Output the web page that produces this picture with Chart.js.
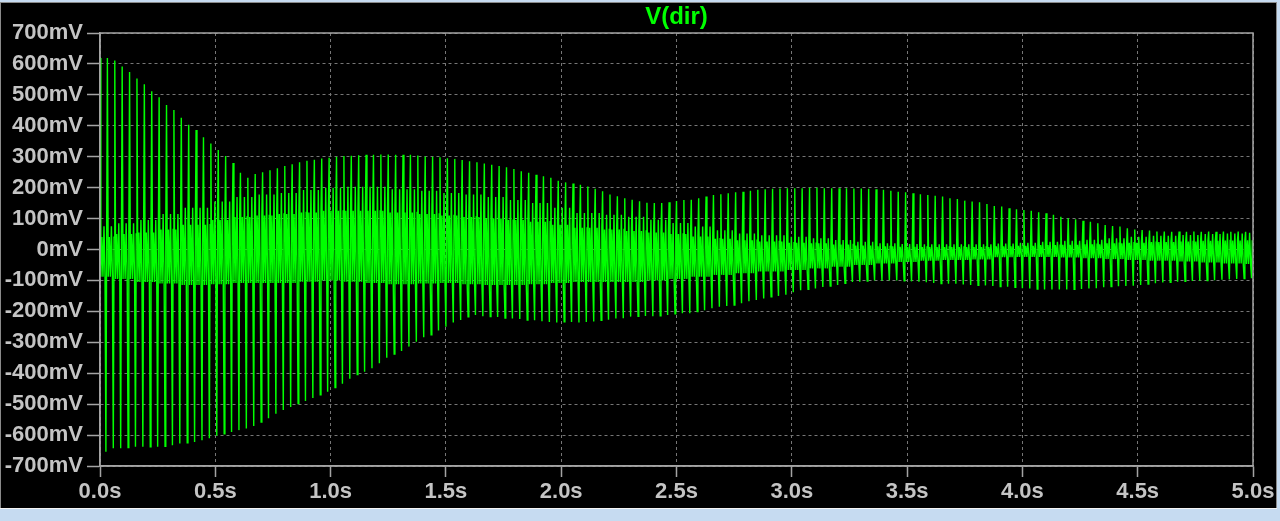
<!DOCTYPE html>
<html>
<head>
<meta charset="utf-8">
<script src="https://cdn.jsdelivr.net/npm/chart.js@4"></script>
<style>
  html, body { margin: 0; padding: 0; background: #c6dbf1; overflow: hidden; }
</style>
</head>
<body>
<canvas id="myChart" width="1280" height="521"></canvas>
<script>
// V(dir) transient, 0..5 s, one big spike pair per cycle (156 cycles)
let traceName = 'V(dir)';
let timeTicks = [0, 0.5, 1, 1.5, 2, 2.5, 3, 3.5, 4, 4.5, 5];
let voltTicks = [-700, -600, -500, -400, -300, -200, -100, 0, 100, 200, 300, 400, 500, 600, 700];
let cycleCount = 156;

// positive spike tip of each cycle, mV
let spikeTop = [
    619, 619, 611, 592, 574, 553, 534, 512, 492, 467,
    451, 426, 403, 386, 363, 343, 322, 302, 280, 248,
    232, 244, 250, 256, 263, 270, 276, 282, 287, 290,
    294, 297, 300, 302, 303, 305, 306, 306, 307, 307,
    306, 306, 306, 304, 301, 300, 298, 295, 293, 289,
    285, 282, 278, 274, 270, 266, 260, 253, 248, 242,
    237, 232, 222, 217, 213, 209, 204, 196, 188, 178,
    172, 166, 161, 156, 151, 150, 150, 153, 157, 160,
    161, 166, 171, 176, 179, 182, 185, 187, 190, 193,
    195, 196, 197, 198, 198, 198, 200, 200, 198, 198,
    198, 198, 197, 197, 196, 195, 193, 190, 187, 185,
    182, 179, 176, 174, 171, 166, 163, 158, 155, 153,
    147, 141, 139, 133, 130, 128, 125, 120, 117, 112,
    106, 101, 98, 93, 90, 85, 79, 76, 74, 69,
    65, 63, 61, 58, 58, 57, 58, 57, 58, 57,
    58, 57, 58, 57, 58, 57
];

// negative spike tip of each cycle, mV
let spikeBottom = [
    -654, -643, -643, -640, -638, -638, -638, -638, -636, -633,
    -627, -625, -622, -617, -610, -602, -596, -590, -584, -579,
    -571, -558, -546, -531, -519, -509, -498, -490, -480, -470,
    -460, -446, -434, -418, -404, -395, -384, -368, -350, -338,
    -328, -314, -298, -284, -276, -262, -250, -236, -228, -218,
    -212, -216, -217, -218, -222, -223, -225, -228, -229, -232,
    -234, -236, -234, -234, -236, -234, -233, -229, -227, -223,
    -222, -217, -216, -215, -216, -214, -212, -208, -206, -206,
    -201, -196, -190, -185, -183, -180, -174, -167, -163, -158,
    -153, -150, -146, -138, -132, -129, -126, -121, -118, -115,
    -109, -105, -104, -102, -100, -101, -100, -100, -101, -103,
    -104, -106, -108, -110, -111, -111, -113, -115, -116, -116,
    -118, -120, -120, -122, -125, -126, -128, -129, -129, -129,
    -129, -129, -128, -126, -125, -122, -120, -119, -118, -117,
    -115, -112, -109, -107, -106, -104, -103, -102, -101, -100,
    -99, -98, -97, -95, -94, -93
];

// ringing between spikes, every 0.1 s (0.0 .. 5.0), mV
let bandHigh = [
    75, 85, 95, 115, 135, 155, 170, 178, 183, 192,
    200, 203, 203, 195, 190, 183, 178, 170, 160, 150,
    135, 118, 112, 106, 96, 86, 74, 62, 52, 46,
    41, 36, 31, 25, 20, 18, 17, 17, 17, 19,
    22, 25, 28, 31, 36, 41, 44, 47, 50, 52,
    54
];
let bandCore = [
    40, 50, 55, 65, 80, 95, 105, 110, 115, 120,
    125, 125, 125, 120, 115, 110, 105, 100, 95, 90,
    80, 70, 65, 60, 55, 50, 42, 35, 30, 26,
    22, 20, 16, 13, 10, 9, 8, 8, 8, 10,
    12, 14, 15, 17, 20, 22, 24, 26, 28, 29,
    30
];
let bandLow = [
    -88, -95, -105, -110, -115, -112, -108, -108, -108, -104,
    -100, -104, -108, -112, -110, -108, -112, -115, -115, -112,
    -108, -105, -105, -105, -100, -95, -88, -82, -77, -71,
    -66, -61, -56, -50, -45, -40, -36, -34, -32, -25,
    -24, -24, -26, -28, -31, -34, -36, -39, -42, -45,
    -47
];

let tEnd = timeTicks[timeTicks.length - 1];
let period = tEnd / cycleCount;

// one cycle: top spike, ringing, bottom spike, back into band
let points = [];
for (let i = 0; i < cycleCount; i++) {
    let t = i * period;
    let k = Math.min(bandHigh.length - 1, Math.round(t / 0.1));
    points.push({ x: t, y: spikeTop[i] });
    points.push({ x: t + 0.12 * period, y: bandLow[k] });
    points.push({ x: t + 0.26 * period, y: bandCore[k] });
    points.push({ x: t + 0.40 * period, y: bandLow[k] });
    points.push({ x: t + 0.54 * period, y: bandHigh[k] });
    points.push({ x: t + 0.68 * period, y: bandLow[k] });
    points.push({ x: t + 0.80 * period, y: spikeBottom[i] });
    points.push({ x: t + 0.90 * period, y: bandCore[k] });
}

let frameColor = '#a4a4a4';
let gridColor = '#767676';
let labelColor = '#c4c4c4';

let panel = {
    id: 'panel',
    beforeDraw(chart) {
        let c = chart.ctx;
        c.save();
        c.fillStyle = '#c6dbf1';
        c.fillRect(0, 0, chart.width, chart.height);
        c.fillStyle = '#8a8a8a';
        c.fillRect(0, 2, 1277, 507);
        c.fillStyle = '#000000';
        c.fillRect(1, 3, 1275, 505);
        c.fillStyle = '#f4f4f4';
        c.fillRect(0, 508, 1277, 1);
        c.restore();
    },
    afterDraw(chart) {
        let c = chart.ctx;
        let a = chart.chartArea;
        c.save();
        c.strokeStyle = frameColor;
        c.lineWidth = 1.5;
        c.strokeRect(a.left, a.top, a.right - a.left, a.bottom - a.top);
        c.fillStyle = '#00ff00';
        c.font = 'bold 24px "Liberation Sans", Arial, sans-serif';
        c.textAlign = 'center';
        c.textBaseline = 'middle';
        c.fillText(traceName, (a.left + a.right) / 2, 17);
        c.restore();
    }
};

Chart.defaults.font.family = '"Liberation Sans", Arial, sans-serif';

let ctx = document.getElementById('myChart').getContext('2d');
let myChart = new Chart(ctx, {
    type: 'line',
    data: {
        datasets: [{
            label: traceName,
            data: points,
            borderColor: '#00ff00',
            borderWidth: 1.4,
            pointRadius: 0,
            tension: 0,
            fill: false
        }]
    },
    options: {
        responsive: false,
        animation: false,
        parsing: false,
        normalized: true,
        layout: { padding: { top: 33, right: 27, bottom: 0, left: 0 } },
        plugins: {
            legend: { display: false },
            tooltip: { enabled: false }
        },
        scales: {
            x: {
                type: 'linear',
                min: timeTicks[0],
                max: tEnd,
                afterBuildTicks: (s) => { s.ticks = timeTicks.map(v => ({ value: v })); },
                afterFit: (s) => { s.height = 55; },
                ticks: {
                    color: labelColor,
                    font: { size: 22, weight: 'bold' },
                    padding: 2,
                    maxRotation: 0,
                    autoSkip: false,
                    callback: (v) => Number(v).toFixed(1) + 's'
                },
                grid: { color: gridColor, lineWidth: 1, tickColor: frameColor, tickLength: 11, tickWidth: 1.5 },
                border: { color: frameColor, width: 1.5, dash: [3, 3] }
            },
            y: {
                min: voltTicks[0],
                max: voltTicks[voltTicks.length - 1],
                afterBuildTicks: (s) => { s.ticks = voltTicks.map(v => ({ value: v })); },
                afterFit: (s) => { s.width = 100; },
                ticks: {
                    color: labelColor,
                    font: { size: 22, weight: 'bold' },
                    padding: 4,
                    autoSkip: false,
                    callback: (v) => v + 'mV'
                },
                grid: { color: gridColor, lineWidth: 1, tickColor: frameColor, tickLength: 13, tickWidth: 1.5 },
                border: { color: frameColor, width: 1.5, dash: [3, 3] }
            }
        }
    },
    plugins: [panel]
});
</script>
</body>
</html>
